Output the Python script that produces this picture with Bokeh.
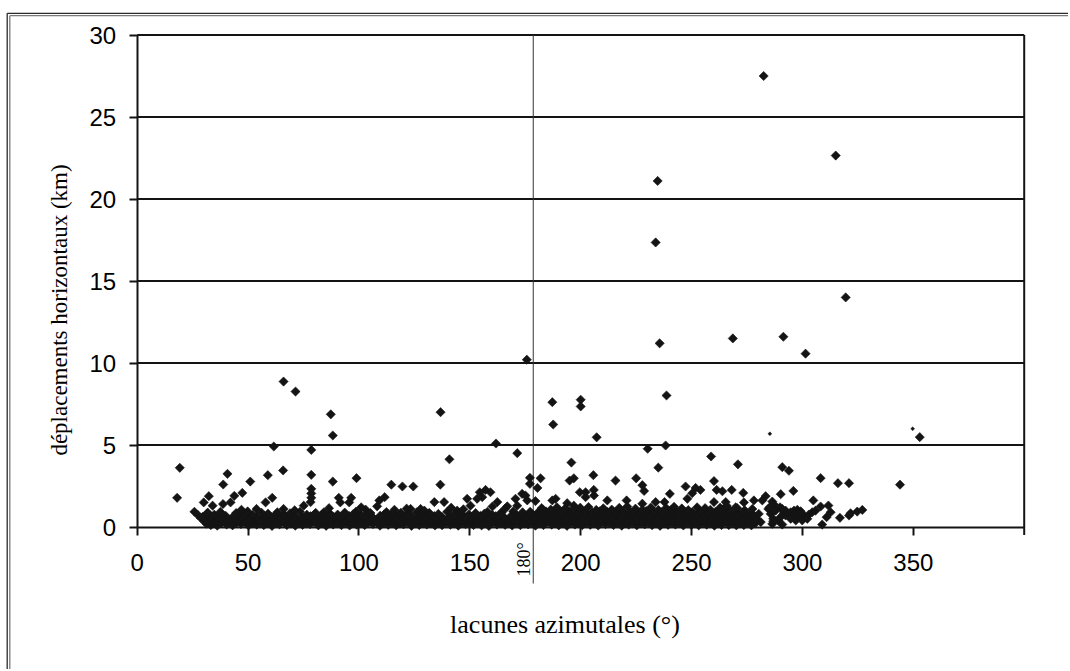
import math
from bokeh.plotting import figure
from bokeh.models import Range1d, FixedTicker, LinearAxis
from bokeh.core.properties import value
from bokeh.embed import file_html
from bokeh.resources import INLINE

# ------------------------------------------------------------------ data
X_TICKS = [0, 50, 100, 150, 200, 250, 300, 350]
Y_TICKS = [0, 5, 10, 15, 20, 25, 30]
X_MIN, X_MAX = 0, 400
Y_MIN, Y_MAX = 0, 30
X_TITLE = "lacunes azimutales (°)"
Y_TITLE = "déplacements horizontaux (km)"
REF_TEXT = "180°"
REF_AZIMUTH = 178.6

# isolated events (azimuthal gap in degrees, horizontal shift in km)
outlier_x = [
    282.5, 315.0, 234.7, 233.8, 319.5, 235.6, 268.6, 291.4, 301.4, 175.7,
    66.0, 71.4, 87.3, 136.8, 187.2, 187.6, 200.0, 200.0, 238.7, 238.3,
    207.2, 161.8, 171.4, 230.2, 258.8, 352.9, 61.6, 78.5, 88.2, 140.8,
    195.8, 235.0, 270.9, 290.9, 293.9, 19.2, 40.7, 58.9, 65.8, 78.5,
    98.9, 136.7, 177.1, 181.9, 205.7, 225.0, 195.0, 196.9, 215.7, 260.1,
    308.2, 316.0, 321.0, 344.0, 38.8, 51.0, 88.2, 114.6, 119.6, 124.5,
    177.1, 180.5, 227.8, 228.6, 247.3, 251.8, 254.0, 261.3, 263.9, 268.1,
    273.3, 290.2, 295.9, 18.0, 47.4, 43.8, 32.3, 30.0, 78.5, 78.5,
    78.5, 78.2, 60.9, 57.9, 90.9, 91.6, 96.5, 95.6, 109.2, 111.6,
    108.2, 134.0, 138.4, 148.8, 155.6, 157.1, 159.3, 154.5, 162.4, 166.9,
    170.6, 173.6, 175.1, 175.9, 179.6, 199.6, 202.2, 202.2, 205.9, 206.0,
    188.7, 187.2, 240.2, 250.3, 248.1, 220.7, 233.8, 237.8, 212.0, 227.8,
    193.9, 196.9, 265.4, 260.1, 278.1, 281.9, 283.4, 286.4, 287.2, 304.9,
    308.2, 311.7, 38.7, 42.1, 34.0, 25.8, 53.8, 75.1, 103.0, 123.3,
    127.8, 144.3, 150.3, 153.3,
]
outlier_y = [
    27.5, 22.65, 21.1, 17.35, 14.0, 11.2, 11.5, 11.6, 10.57, 10.2,
    8.87, 8.26, 6.87, 7.0, 7.61, 6.25, 7.76, 7.35, 8.02, 4.97,
    5.47, 5.09, 4.5, 4.77, 4.3, 5.48, 4.91, 4.7, 5.58, 4.13,
    3.93, 3.62, 3.82, 3.65, 3.43, 3.61, 3.24, 3.16, 3.45, 3.18,
    2.98, 2.58, 3.0, 2.97, 3.16, 2.97, 2.83, 2.97, 2.83, 2.8,
    2.98, 2.67, 2.67, 2.58, 2.59, 2.77, 2.77, 2.58, 2.47, 2.47,
    2.63, 2.38, 2.55, 2.2, 2.47, 2.38, 2.26, 2.26, 2.18, 2.26,
    2.08, 2.0, 2.2, 1.78, 2.08, 1.9, 1.88, 1.5, 2.33, 2.05,
    1.78, 1.52, 1.78, 1.5, 1.78, 1.5, 1.78, 1.5, 1.62, 1.82,
    1.26, 1.52, 1.52, 1.72, 1.82, 2.26, 2.12, 2.12, 1.52, 1.26,
    1.72, 2.02, 1.92, 1.62, 1.58, 2.12, 2.12, 1.82, 2.26, 1.92,
    1.72, 1.62, 2.02, 2.06, 1.72, 1.62, 1.52, 1.52, 1.62, 1.42,
    1.45, 1.3, 1.52, 1.52, 1.62, 1.62, 1.88, 1.55, 1.37, 1.62,
    1.25, 1.31, 1.4, 1.5, 1.3, 0.93, 1.1, 1.3, 1.06, 1.1,
    1.1, 1.0, 1.3, 1.72,
]

# the two tiny markers
small_x = [285.3, 349.7]
small_y = [5.68, 5.99]

# dense cloud of small shifts, read row by row
band_bottom_x = [
    33.2, 36.1, 40.3, 43.0, 46.8, 50.2, 53.9, 57.1, 60.8, 64.2,
    67.5, 71.3, 74.6, 78.0, 81.7, 85.2, 88.4, 92.1, 95.8, 99.0,
    102.6, 106.3, 109.5, 113.2, 116.8, 120.1, 123.7, 127.2, 130.6, 134.3,
    137.5, 141.2, 144.8, 148.1, 151.7, 155.3, 158.6, 162.2, 165.9, 169.1,
    172.8, 176.3, 179.6, 183.2, 186.9, 190.1, 193.8, 197.4, 200.7, 204.3,
    207.9, 211.2, 214.8, 218.5, 221.7, 225.3, 228.9, 232.2, 235.8, 239.4,
    242.7, 246.3, 249.9, 253.2, 256.8, 260.3, 263.5,
]
band_bottom_y = [
    0.12, 0.08, 0.15, 0.1, 0.18, 0.09, 0.14, 0.11, 0.06, 0.16,
    0.12, 0.08, 0.13, 0.17, 0.1, 0.07, 0.15, 0.11, 0.09, 0.14,
    0.12, 0.18, 0.08, 0.13, 0.1, 0.16, 0.07, 0.12, 0.15, 0.09,
    0.11, 0.14, 0.08, 0.17, 0.12, 0.1, 0.06, 0.15, 0.13, 0.09,
    0.11, 0.16, 0.08, 0.12, 0.14, 0.1, 0.07, 0.15, 0.11, 0.13,
    0.09, 0.17, 0.12, 0.08, 0.14, 0.1, 0.16, 0.11, 0.07, 0.13,
    0.15, 0.09, 0.12, 0.1, 0.14, 0.08, 0.12,
]
band_low_x = [
    35.0, 38.0, 42.1, 44.8, 48.6, 52.0, 55.7, 58.9, 62.6, 66.0,
    69.3, 73.1, 76.4, 79.8, 83.5, 87.0, 90.2, 93.9, 97.6, 100.8,
    104.4, 108.1, 111.3, 115.0, 118.6, 121.9, 125.5, 129.0, 132.4, 136.1,
    139.3, 143.0, 146.6, 149.9, 153.5, 157.1, 160.4, 164.0, 167.7, 170.9,
    174.6, 178.1, 181.4, 185.0, 188.7, 191.9, 195.6, 199.2, 202.5, 206.1,
    209.7, 213.0, 216.6, 220.3, 223.5, 227.1, 230.7, 234.0, 237.6, 241.2,
    244.5, 248.1, 251.7, 255.0, 258.6, 262.1,
]
band_low_y = [
    0.26, 0.23, 0.29, 0.25, 0.27, 0.22, 0.28, 0.24, 0.26, 0.3,
    0.23, 0.27, 0.25, 0.29, 0.22, 0.26, 0.24, 0.28, 0.25, 0.23,
    0.27, 0.3, 0.24, 0.26, 0.22, 0.28, 0.25, 0.27, 0.23, 0.29,
    0.26, 0.24, 0.28, 0.22, 0.27, 0.25, 0.3, 0.23, 0.26, 0.28,
    0.24, 0.27, 0.25, 0.29, 0.23, 0.26, 0.28, 0.22, 0.27, 0.25,
    0.3, 0.24, 0.26, 0.23, 0.28, 0.25, 0.27, 0.29, 0.22, 0.26,
    0.24, 0.28, 0.25, 0.27, 0.23, 0.26,
]
band_mid_x = [
    31.3, 34.6, 38.2, 41.7, 45.1, 48.6, 52.0, 55.4, 59.0, 62.5,
    65.8, 69.4, 72.9, 76.3, 79.8, 83.4, 86.7, 90.2, 93.9, 97.3,
    100.8, 104.4, 107.8, 111.3, 114.9, 118.4, 121.8, 125.5, 128.9, 132.4,
    135.8, 139.3, 142.9, 146.4, 149.8, 153.5, 156.9, 160.4, 163.8, 167.5,
    170.9, 174.4, 177.8, 181.3, 184.9, 188.4, 191.8, 195.5, 198.9, 202.4,
    205.8, 209.5, 212.9, 216.4, 219.8, 223.5, 226.9, 230.4, 233.8, 237.5,
    240.9, 244.4, 247.8, 251.5, 254.9, 258.4, 261.8, 265.2,
]
band_mid_y = [
    0.38, 0.42, 0.35, 0.44, 0.4, 0.37, 0.45, 0.39, 0.41, 0.36,
    0.43, 0.38, 0.4, 0.46, 0.35, 0.42, 0.39, 0.37, 0.44, 0.41,
    0.36, 0.4, 0.43, 0.38, 0.45, 0.35, 0.41, 0.39, 0.42, 0.37,
    0.44, 0.4, 0.36, 0.43, 0.38, 0.41, 0.46, 0.39, 0.35, 0.42,
    0.4, 0.37, 0.44, 0.41, 0.38, 0.45, 0.36, 0.42, 0.39, 0.43,
    0.37, 0.41, 0.44, 0.38, 0.4, 0.46, 0.35, 0.42, 0.39, 0.43,
    0.38, 0.41, 0.36, 0.44, 0.4, 0.37, 0.42, 0.39,
]
band_midhigh_x = [
    33.1, 36.4, 40.0, 43.5, 46.9, 50.4, 53.8, 57.2, 60.8, 64.3,
    67.6, 71.2, 74.7, 78.1, 81.6, 85.2, 88.5, 92.0, 95.7, 99.1,
    102.6, 106.2, 109.6, 113.1, 116.7, 120.2, 123.6, 127.3, 130.7, 134.2,
    137.6, 141.1, 144.7, 148.2, 151.6, 155.3, 158.7, 162.2, 165.6, 169.3,
    172.7, 176.2, 179.6, 183.1, 186.7, 190.2, 193.6, 197.3, 200.7, 204.2,
    207.6, 211.3, 214.7, 218.2, 221.6, 225.3, 228.7, 232.2, 235.6, 239.3,
    242.7, 246.2, 249.6, 253.3, 256.7, 260.2, 263.6,
]
band_midhigh_y = [
    0.52, 0.55, 0.5, 0.54, 0.57, 0.51, 0.53, 0.56, 0.5, 0.55,
    0.52, 0.58, 0.51, 0.54, 0.56, 0.5, 0.53, 0.57, 0.52, 0.55,
    0.51, 0.54, 0.58, 0.5, 0.53, 0.56, 0.52, 0.55, 0.51, 0.57,
    0.54, 0.5, 0.53, 0.56, 0.52, 0.58, 0.51, 0.55, 0.53, 0.5,
    0.56, 0.52, 0.54, 0.57, 0.51, 0.55, 0.53, 0.58, 0.5, 0.54,
    0.56, 0.52, 0.55, 0.51, 0.57, 0.53, 0.5, 0.56, 0.54, 0.52,
    0.55, 0.58, 0.51, 0.53, 0.56, 0.52, 0.54,
]
band_upper_x = [
    29.5, 33.0, 36.4, 39.9, 43.3, 46.9, 50.3, 53.8, 57.2, 60.7,
    64.3, 67.7, 71.1, 74.7, 78.2, 81.6, 85.1, 88.6, 92.0, 95.6,
    99.1, 102.5, 106.0, 109.6, 113.0, 116.4, 120.0, 123.5, 126.9, 130.4,
    134.0, 137.4, 140.9, 144.4, 147.8, 151.3, 154.8, 158.3, 161.7, 165.2,
    168.7, 172.2, 175.6, 179.1, 182.6, 186.1, 189.5, 193.0, 196.5, 200.0,
    203.4, 206.9, 210.4, 213.9, 217.3, 220.8, 224.3, 227.8, 231.2, 234.7,
    238.2, 241.7, 245.1, 248.6, 252.1, 255.6, 259.0, 262.5, 266.0,
]
band_upper_y = [
    0.62, 0.66, 0.6, 0.68, 0.64, 0.61, 0.67, 0.63, 0.69, 0.6,
    0.65, 0.62, 0.68, 0.6, 0.66, 0.63, 0.7, 0.61, 0.64, 0.67,
    0.6, 0.65, 0.62, 0.69, 0.63, 0.66, 0.61, 0.68, 0.64, 0.6,
    0.67, 0.62, 0.65, 0.7, 0.61, 0.64, 0.68, 0.6, 0.66, 0.63,
    0.69, 0.62, 0.65, 0.67, 0.72, 0.68, 0.74, 0.7, 0.66, 0.73,
    0.69, 0.75, 0.71, 0.68, 0.74, 0.7, 0.72, 0.67, 0.75, 0.71,
    0.69, 0.74, 0.7, 0.73, 0.68, 0.72, 0.7, 0.66, 0.64,
]
band_high_x = [
    31.3, 34.8, 38.2, 45.1, 48.7, 52.1, 59.0, 62.5, 66.1, 69.5,
    76.5, 80.0, 83.4, 86.9, 90.4, 97.4, 100.9, 104.3, 111.4, 114.8,
    118.2, 121.8, 128.7, 132.2, 135.8, 142.7, 146.2, 149.6, 156.6, 160.1,
    163.5, 170.5, 174.0, 177.4, 180.9, 184.4, 187.9, 191.3, 194.8, 198.3,
    201.8, 205.2, 208.7, 212.2, 215.7, 219.1, 222.6, 226.1, 229.6, 233.0,
    236.5, 240.0, 243.5, 246.9, 250.4, 253.9, 257.4, 260.8, 264.3,
]
band_high_y = [
    0.78, 0.75, 0.8, 0.77, 0.79, 0.74, 0.81, 0.76, 0.78, 0.8,
    0.75, 0.79, 0.77, 0.82, 0.76, 0.78, 0.74, 0.8, 0.77, 0.79,
    0.75, 0.81, 0.78, 0.76, 0.8, 0.74, 0.79, 0.77, 0.82, 0.75,
    0.78, 0.8, 0.76, 0.79, 0.82, 0.8, 0.84, 0.81, 0.79, 0.83,
    0.8, 0.85, 0.81, 0.79, 0.83, 0.8, 0.82, 0.78, 0.84, 0.81,
    0.79, 0.83, 0.8, 0.82, 0.79, 0.84, 0.8, 0.78, 0.81,
]
band_top_west_x = [
    31.8, 37.5, 44.6, 49.8, 56.1, 63.2, 68.9, 73.4, 80.5, 84.2,
    93.6, 98.7, 105.2, 112.4, 118.9, 126.1, 131.7, 139.8, 145.5, 152.6,
    157.9, 164.3, 169.6, 173.8, 177.2,
]
band_top_west_y = [
    0.88, 0.92, 0.85, 0.95, 0.87, 0.9, 0.84, 0.93, 0.86, 0.9,
    0.88, 0.94, 0.85, 0.91, 0.87, 0.9, 0.86, 0.93, 0.88, 0.85,
    0.92, 0.89, 0.95, 0.9, 0.93,
]
band_top_east_x = [
    180.8, 184.3, 187.7, 191.2, 194.8, 198.2, 201.7, 205.2, 208.6, 212.1,
    215.6, 219.1, 222.5, 226.0, 229.5, 233.0, 236.4, 239.9, 243.4, 246.9,
    250.3, 253.8, 257.3, 260.8, 264.2,
]
band_top_east_y = [
    0.9, 0.95, 0.88, 0.93, 0.97, 0.9, 0.94, 0.87, 0.96, 0.91,
    0.89, 0.95, 0.92, 0.88, 0.97, 0.93, 0.9, 0.95, 0.89, 0.94,
    0.91, 0.96, 0.88, 0.93, 0.9,
]
band_shoulder_east_x = [183.0, 186.5, 196.5, 200.0, 207.0, 214.0, 217.5, 227.8, 235.0, 241.0, 248.5, 258.5]
band_shoulder_east_y = [1.04, 1.06, 1.03, 1.05, 1.04, 1.06, 1.03, 1.05, 1.04, 1.06, 1.03, 1.05]
band_crest_east_x = [
    182.4, 189.3, 192.9, 199.8, 203.5, 210.2, 217.4, 221.0, 224.7, 231.6,
    238.5, 242.1, 245.6, 252.5, 256.1, 262.9,
]
band_crest_east_y = [
    1.15, 1.2, 1.12, 1.18, 1.22, 1.14, 1.17, 1.25, 1.12, 1.19,
    1.16, 1.23, 1.13, 1.2, 1.15, 1.18,
]
band_bumps_west_x = [47.0, 66.0, 71.0, 86.5, 101.0, 116.0, 121.5, 129.5, 141.6, 147.1, 160.2, 165.8, 171.4]
band_bumps_west_y = [1.05, 1.1, 1.02, 1.15, 1.2, 1.05, 1.12, 1.0, 1.18, 1.08, 1.25, 1.1, 1.3]
band_tip_x = [27.3, 28.7, 30.1, 31.2]
band_tip_y = [0.74, 0.55, 0.36, 0.2]

# sparser cloud beyond ~265 degrees
east_x = [
    266.8, 268.5, 270.2, 271.9, 273.6, 275.3, 277.0, 278.7, 267.5, 269.3,
    271.0, 272.7, 274.4, 276.1, 277.8, 266.3, 268.0, 269.8, 271.5, 273.2,
    275.0, 276.7, 278.4, 267.1, 270.6, 274.0, 277.4, 265.8, 269.9, 273.6,
    279.5, 281.2, 280.3, 263.8, 284.6, 285.7, 286.8, 287.9, 285.2, 286.4,
    286.8, 289.9, 290.9, 291.6, 290.1, 292.4, 292.4, 290.9, 289.0, 294.7,
    296.2, 297.7, 299.2, 295.4, 296.9, 298.4, 299.9, 296.2, 298.4, 294.7,
    297.0, 301.4, 302.9, 304.4, 305.9, 302.2, 299.9, 310.9, 312.7, 316.9,
    321.0, 321.7, 324.7, 327.0, 308.9,
]
east_y = [
    0.12, 0.3, 0.1, 0.25, 0.12, 0.28, 0.1, 0.22, 0.5, 0.42,
    0.6, 0.45, 0.55, 0.4, 0.52, 0.8, 0.7, 0.85, 0.75, 0.9,
    0.72, 0.82, 0.68, 1.05, 1.15, 1.02, 1.1, 1.3, 1.2, 1.5,
    0.45, 0.3, 0.8, 1.05, 1.1, 0.8, 0.5, 1.0, 1.2, 0.19,
    0.35, 1.2, 1.1, 0.85, 0.6, 1.0, 0.7, 0.15, 0.4, 0.9,
    1.0, 1.05, 0.96, 0.7, 0.8, 0.84, 0.8, 0.56, 0.6, 0.5,
    0.4, 0.6, 0.76, 0.9, 1.0, 0.5, 0.4, 0.6, 0.9, 0.56,
    0.7, 0.84, 0.94, 1.04, 0.15,
]

series = [
    (outlier_x, outlier_y), (band_bottom_x, band_bottom_y), (band_low_x, band_low_y),
    (band_mid_x, band_mid_y), (band_midhigh_x, band_midhigh_y),
    (band_upper_x, band_upper_y), (band_high_x, band_high_y),
    (band_top_west_x, band_top_west_y), (band_top_east_x, band_top_east_y),
    (band_shoulder_east_x, band_shoulder_east_y), (band_crest_east_x, band_crest_east_y),
    (band_bumps_west_x, band_bumps_west_y), (band_tip_x, band_tip_y), (east_x, east_y),
]
all_x, all_y = [], []
for xs, ys in series:
    assert len(xs) == len(ys), (len(xs), len(ys))
    all_x += xs
    all_y += ys

# ------------------------------------------------------------------ layout
W, H = 1068, 669
PAGE_MARGIN = 0          # bokeh's standalone template sets body margin to 0
FRAME_LEFT_PX, FRAME_RIGHT_PX = 136.7, 1023.7     # page px of x = 0 and x = 400
FRAME_BOTTOM_PX, FRAME_TOP_PX = 526.5, 34.5       # page px of y = 0 and y = 30
KX = (FRAME_RIGHT_PX - FRAME_LEFT_PX) / (X_MAX - X_MIN)
KY = (FRAME_BOTTOM_PX - FRAME_TOP_PX) / (Y_MAX - Y_MIN)


def dx(px):
    return X_MIN + (px - FRAME_LEFT_PX) / KX


def dy(py):
    return Y_MIN + (FRAME_BOTTOM_PX - py) / KY


INK = "#141414"

p = figure(
    width=W, height=H,
    x_range=Range1d(dx(PAGE_MARGIN), dx(PAGE_MARGIN + W)),
    y_range=Range1d(dy(PAGE_MARGIN + H), dy(PAGE_MARGIN)),
    output_backend="svg", toolbar_location=None,
    x_axis_location=None, y_axis_location=None,
    min_border=0, outline_line_color=None,
    background_fill_color="white", border_fill_color="white",
)
p.grid.visible = False


def style_axis(ax, standoff):
    ax.axis_line_width = 2
    ax.axis_line_color = INK
    ax.major_tick_line_width = 2
    ax.major_tick_line_color = INK
    ax.major_tick_out = 8
    ax.major_tick_in = 0
    ax.minor_tick_line_color = None
    ax.major_label_text_font = "Liberation Sans"
    ax.major_label_text_font_size = "24px"
    ax.major_label_text_color = "black"
    ax.major_label_standoff = standoff


xa = LinearAxis(fixed_location=Y_MIN, bounds=(X_MIN, X_MAX), ticker=FixedTicker(ticks=X_TICKS))
style_axis(xa, 19)
p.add_layout(xa, "below")
ya = LinearAxis(fixed_location=X_MIN, bounds=(Y_MIN, Y_MAX), ticker=FixedTicker(ticks=Y_TICKS))
style_axis(ya, 13)
p.add_layout(ya, "left")

# horizontal gridlines (including top border) and right border
grid_y = Y_TICKS[1:]
p.segment(x0=[X_MIN] * len(grid_y), y0=grid_y, x1=[X_MAX] * len(grid_y), y1=grid_y,
          line_color=INK, line_width=2)
p.segment(x0=[X_MAX], y0=[dy(FRAME_BOTTOM_PX + 8)], x1=[X_MAX], y1=[Y_MAX],
          line_color=INK, line_width=2)

# outer chart-area frame (double line top and left)
p.segment(x0=[dx(6.7), dx(9.3)], y0=[dy(12.8), dy(15.2)], x1=[dx(1075), dx(1075)],
          y1=[dy(12.8), dy(15.2)], line_color=["#2a2a2a", "#7a7a7a"], line_width=1.3)
p.segment(x0=[dx(6.7), dx(9.3)], y0=[dy(12.8), dy(15.2)], x1=[dx(6.7), dx(9.3)],
          y1=[dy(690), dy(690)], line_color=["#2a2a2a", "#7a7a7a"], line_width=1.3)

# 180 degree reference line
p.segment(x0=[REF_AZIMUTH], y0=[dy(583)], x1=[REF_AZIMUTH], y1=[Y_MAX],
          line_color="#333333", line_width=1)

# data
p.scatter(all_x, all_y, marker="square", angle=math.pi / 4, size=6.5,
          fill_color=INK, line_color=INK, line_width=0.6)
p.scatter(small_x, small_y, marker="square", angle=math.pi / 4, size=2.8,
          fill_color=INK, line_color=INK, line_width=0.4)

# texts
SERIF = value("Liberation Serif")
p.text(x=[dx(59)], y=[dy(309.5)], text=[Y_TITLE], angle=math.pi / 2,
       text_font=SERIF, text_font_size="23px", text_align="center",
       text_baseline="middle", text_color="black")
p.text(x=[dx(564.5)], y=[dy(624)], text=[X_TITLE],
       text_font=SERIF, text_font_size="26px", text_align="center",
       text_baseline="middle", text_color="black")
p.text(x=[dx(523)], y=[dy(559)], text=[REF_TEXT], angle=math.pi / 2,
       text_font=SERIF, text_font_size="18px", text_align="center",
       text_baseline="middle", text_color="black")

open("out.html", "w").write(file_html(p, INLINE, "chart"))
